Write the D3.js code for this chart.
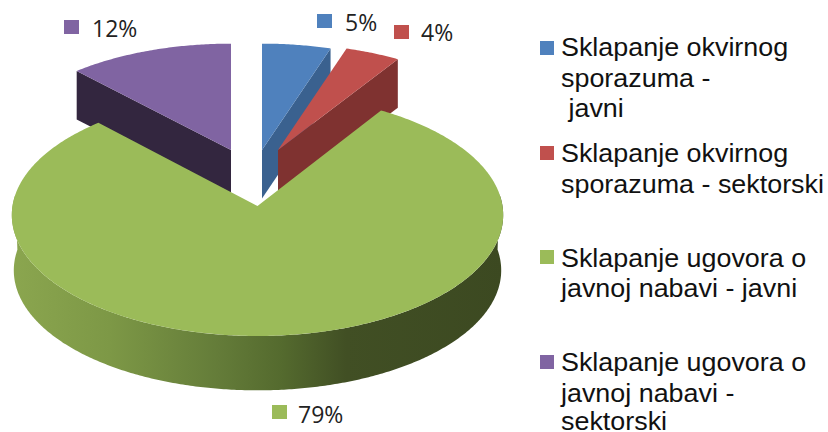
<!DOCTYPE html>
<html>
<head>
<meta charset="utf-8">
<script src="https://cdnjs.cloudflare.com/ajax/libs/d3/7.8.5/d3.min.js"></script>
<style>html,body{margin:0;padding:0;background:#fff;overflow:hidden}svg{display:block}</style>
</head>
<body>
<svg id="c" width="828" height="432"></svg>
<script>
const categories = ["Sklapanje okvirnog sporazuma - javni","Sklapanje okvirnog sporazuma - sektorski","Sklapanje ugovora o javnoj nabavi - javni","Sklapanje ugovora o javnoj nabavi - sektorski"];
const values = [5,4,79,12];
const percentLabels = ["5%","4%","79%","12%"];
const legendLines = [["Sklapanje okvirnog","sporazuma -"," javni"],["Sklapanje okvirnog","sporazuma - sektorski"],["Sklapanje ugovora o","javnoj nabavi - javni"],["Sklapanje ugovora o","javnoj nabavi -","sektorski"]];
const topColors = ["#4f81bd","#c0504d","#9bbb59","#8064a2"];
const wallColors = ["#3a618f","#7f3230","#5a7032","#33263f"];

const svg = d3.select("#c");
const cx = 257.5, cy = 206, R = 245, Ry = 120.3, k = 0.0744;
const burst = [[4.5,-56,.97,.95],[20.5,-56,.97,.95],[0,0,1,1],[-26.5,-56,.97,.95]];
const wallDepth = [48.5,48.5,55.5,48.5];
const arcs = d3.pie().sort(null).value(d=>d)(values);

function project(a, r, b){
  const u = r*Math.sin(a), v = -r*Math.cos(a), f = 1/(1-k*v);
  return [cx+b[0]+R*u*f*b[2], cy+b[1]+Ry*v*f*b[3]];
}
const line = d3.line();
function arcPoints(d,b,step=0.01){
  const pts = d3.range(d.startAngle,d.endAngle,step).map(a=>project(a,1,b));
  pts.push(project(d.endAngle,1,b));
  return pts;
}
const defs = svg.append("defs");
const grad = defs.append("linearGradient").attr("id","wall").attr("gradientUnits","userSpaceOnUse")
  .attr("x1",11).attr("x2",504).attr("y1",0).attr("y2",0);
[[0,"#8ba64f"],[0.2,"#7d9846"],[0.42,"#647c39"],[0.55,"#546a2e"],[0.68,"#414f24"],[1,"#3c4921"]]
  .forEach(s=>grad.append("stop").attr("offset",s[0]).attr("stop-color",s[1]));

// exploded slices: walls, then tops
[0,1,3].forEach(i=>{
  const d=arcs[i], b=burst[i], apex=[cx+b[0],cy+b[1]], dz=wallDepth[i];
  const edge = i===3 ? project(d.startAngle,1,b) : project(d.endAngle,1,b);
  const down = p=>[p[0],p[1]+dz];
  svg.append("path").attr("d",line([apex,edge,down(edge),down(apex)])+"Z").attr("fill",wallColors[i]);
  svg.append("path").attr("d",line([apex,...arcPoints(d,b)])+"Z").attr("fill",topColors[i]);
});

// main slice: front wall and top
const g=arcs[2], gb=burst[2];
const frontA = d3.range(Math.PI/2-0.1,Math.PI*1.5+0.1,0.01);
const upper = frontA.map(a=>project(a,1,gb));
const lower = frontA.map(a=>{const p=project(a,0.992,gb);return [p[0],p[1]+wallDepth[2]];}).reverse();
svg.append("path").attr("d",line([...upper,...lower])+"Z").attr("fill","url(#wall)");
svg.append("path").attr("d",line([[cx,cy],...arcPoints(g,gb)])+"Z").attr("fill",topColors[2]);

// data labels
const labelX=[345,421,298,92], labelY=[31,41,423,37], swX=[317,394,272,64], swY=[14,25,405,20];
percentLabels.forEach((t,i)=>{
  svg.append("rect").attr("x",swX[i]).attr("y",swY[i]).attr("width",15).attr("height",14).attr("fill",topColors[i]);
  svg.append("text").attr("x",labelX[i]).attr("y",labelY[i]).text(t)
    .attr("font-family","'Open Sans',sans-serif").attr("font-size",23).attr("fill","#222");
});

// legend
const legY=[41,146,250,355], legBase=[[56,87,117],[162,193],[267,297],[371,402,430]];
legendLines.forEach((ls,i)=>{
  svg.append("rect").attr("x",540).attr("y",legY[i]).attr("width",14).attr("height",14).attr("fill",topColors[i]);
  ls.forEach((t,j)=>svg.append("text").attr("transform",`translate(561,${legBase[i][j]}) scale(1.076,1)`).text(t)
    .style("white-space","pre")
    .attr("font-family","'Liberation Sans',Arial,sans-serif").attr("font-size",25).attr("fill","#111"));
});
</script>
</body>
</html>
